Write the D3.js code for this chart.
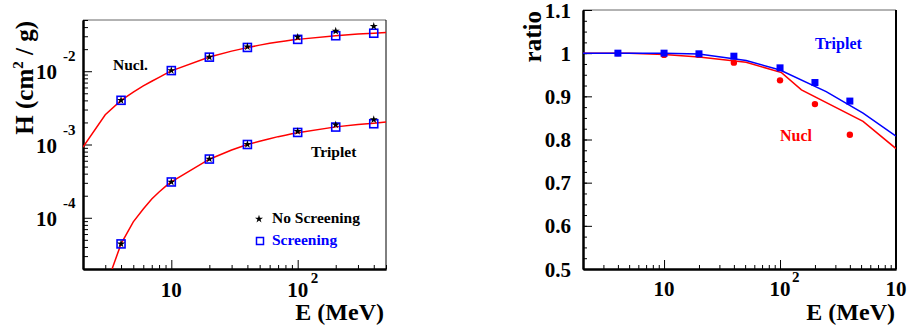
<!DOCTYPE html>
<html>
<head>
<meta charset="utf-8">
<script src="https://cdn.jsdelivr.net/npm/d3@7"></script>
<style>
  body { margin: 0; background: #fff; }
  svg { display: block; font-family: "Liberation Serif", "Times New Roman", serif; font-weight: bold; }
</style>
</head>
<body>
<svg id="chart" width="908" height="331"></svg>
<script>
// energies of the computed points (MeV)
const ePoints = [4, 10, 20, 40, 100, 200, 400];

// left panel: H (cm^2/g)
const nuclScreening   = [4.01e-3, 1.02e-2, 1.556e-2, 2.11e-2, 2.72e-2, 3.05e-2, 3.30e-2];
const nuclNoScreening = [4.01e-3, 1.024e-2, 1.562e-2, 2.16e-2, 2.92e-2, 3.53e-2, 4.11e-2];
const tripScreening   = [4.4e-5, 3.08e-4, 6.33e-4, 1.0e-3, 1.46e-3, 1.73e-3, 1.92e-3];
const tripNoScreening = [4.4e-5, 3.08e-4, 6.35e-4, 1.007e-3, 1.51e-3, 1.86e-3, 2.19e-3];

const nuclCurveE = [2, 3, 4, 5, 6, 7, 8, 9, 10, 20, 30, 40, 50, 60, 70, 80, 90, 100, 200, 300, 400, 500];
const nuclCurveH = [9.2e-4, 2.55e-3, 4.0e-3, 5.2e-3, 6.3e-3, 7.3e-3, 8.25e-3, 9.2e-3, 1.01e-2,
                    1.56e-2, 1.88e-2, 2.1e-2, 2.27e-2, 2.4e-2, 2.5e-2, 2.58e-2, 2.66e-2, 2.72e-2,
                    3.05e-2, 3.22e-2, 3.31e-2, 3.38e-2];
const tripCurveE = [3, 4, 5, 6, 7, 8, 9, 10, 20, 30, 40, 50, 60, 70, 80, 90, 100, 200, 300, 400, 500];
const tripCurveH = [1.1e-5, 4.4e-5, 8.8e-5, 1.32e-4, 1.8e-4, 2.25e-4, 2.68e-4, 3.08e-4,
                    6.3e-4, 8.4e-4, 1.0e-3, 1.11e-3, 1.2e-3, 1.28e-3, 1.34e-3, 1.4e-3, 1.45e-3,
                    1.74e-3, 1.87e-3, 1.95e-3, 2.03e-3];

// right panel: ratio screening / no screening
const ratioTripPts = [1.0, 1.0, 0.9985, 0.993, 0.966, 0.932, 0.889];
const ratioNuclPts = [1.0, 0.996, 0.996, 0.978, 0.937, 0.882, 0.811];
const ratioTripCurveE = [2, 5, 10, 20, 51, 100, 250, 520, 1000];
const ratioTripCurve  = [1.0, 1.0, 1.0, 0.998, 0.983, 0.961, 0.911, 0.861, 0.808];
const ratioNuclCurveE = [2, 5, 10, 20, 51, 103, 153, 520, 1000];
const ratioNuclCurve  = [1.0, 1.0, 0.997, 0.991, 0.979, 0.955, 0.915, 0.842, 0.779];

const leftTicksY = [1e-4, 1e-3, 1e-2];
const leftTicksX = [10, 100];
const rightTicksX = [10, 100, 1000];
const rightTicksY = [0.5, 0.6, 0.7, 0.8, 0.9, 1.0, 1.1];

const RED = '#ff0000', BLUE = '#0000ff';
const svg = d3.select('#chart');

function minorLog(lo, hi) {
  const out = [];
  for (let p = Math.floor(Math.log10(lo)); p <= Math.ceil(Math.log10(hi)); p++) {
    for (let m = 2; m < 10; m++) {
      const v = m * Math.pow(10, p);
      if (v >= lo * 0.999 && v <= hi * 1.001) out.push(v);
    }
  }
  return out;
}

function frame(g, x0, y0, x1, y1, rightW) {
  g.append('line').attr('x1', x0).attr('x2', x1).attr('y1', y0).attr('y2', y0)
    .attr('stroke', '#666').attr('stroke-width', 1);
  g.append('line').attr('x1', x1).attr('x2', x1).attr('y1', y0).attr('y2', y1)
    .attr('stroke', '#000').attr('stroke-width', rightW);
}

// ticks drawn inside the frame, ROOT style
const styleAxis = a => {
  a.select('.domain').attr('stroke', '#000').attr('stroke-width', 2);
  a.selectAll('text').remove();
  a.selectAll('line').attr('stroke', '#000').attr('stroke-width', 1);
};

// ---------------- left panel ----------------
const L = { x0: 83, x1: 386, y0: 20, y1: 269 };
const xL = d3.scaleLog().domain([2, 500]).range([L.x0, L.x1]);
const yL = d3.scaleLog().domain([2e-5, 0.05]).range([L.y1, L.y0]);

const gl = svg.append('g');
svg.append('clipPath').attr('id', 'clipL').append('rect')
  .attr('x', L.x0).attr('y', L.y0).attr('width', L.x1 - L.x0).attr('height', L.y1 - L.y0);

frame(gl, L.x0, L.y0, L.x1, L.y1, 1);

gl.append('g').attr('transform', `translate(0,${L.y1})`)
  .call(d3.axisBottom(xL).tickValues(minorLog(2, 500)).tickSizeInner(-4).tickSizeOuter(0)).call(styleAxis);
gl.append('g').attr('transform', `translate(0,${L.y1})`)
  .call(d3.axisBottom(xL).tickValues(leftTicksX).tickSizeInner(-9).tickSizeOuter(0)).call(styleAxis);
gl.append('g').attr('transform', `translate(${L.x0},0)`)
  .call(d3.axisLeft(yL).tickValues(minorLog(2e-5, 0.05)).tickSizeInner(-5).tickSizeOuter(0)).call(styleAxis);
gl.append('g').attr('transform', `translate(${L.x0},0)`)
  .call(d3.axisLeft(yL).tickValues(leftTicksY).tickSizeInner(-9).tickSizeOuter(0)).call(styleAxis);

// tick labels
leftTicksX.forEach(v => {
  const p = Math.round(Math.log10(v));
  gl.append('text').attr('x', xL(v)).attr('y', 297).attr('font-size', 21).attr('text-anchor', 'middle').text('10');
  if (p > 1) gl.append('text').attr('x', xL(v) + 13).attr('y', 283).attr('font-size', 15).text(p);
});
leftTicksY.forEach(v => {
  const p = Math.round(Math.log10(v));
  gl.append('text').attr('x', 57).attr('y', yL(v) + 8).attr('font-size', 21).attr('text-anchor', 'end').text('10');
  gl.append('text').attr('x', 63).attr('y', yL(v) - 10).attr('font-size', 15).text(String(p));
});

// curves
const lineL = d3.line().x(d => xL(d[0])).y(d => yL(d[1]));
gl.append('path').datum(d3.zip(nuclCurveE, nuclCurveH)).attr('d', lineL)
  .attr('fill', 'none').attr('stroke', RED).attr('stroke-width', 1.5).attr('clip-path', 'url(#clipL)');
gl.append('path').datum(d3.zip(tripCurveE, tripCurveH)).attr('d', lineL)
  .attr('fill', 'none').attr('stroke', RED).attr('stroke-width', 1.5).attr('clip-path', 'url(#clipL)');

// markers: open squares (screening) and stars (no screening)
const sq = 8;
[nuclScreening, tripScreening].forEach(series => {
  gl.selectAll(null).data(d3.zip(ePoints, series)).enter().append('rect')
    .attr('x', d => xL(d[0]) - sq / 2).attr('y', d => yL(d[1]) - sq / 2)
    .attr('width', sq).attr('height', sq)
    .attr('fill', 'none').attr('stroke', BLUE).attr('stroke-width', 1.6);
});
const star = d3.symbol().type(d3.symbolStar).size(20);
[nuclNoScreening, tripNoScreening].forEach(series => {
  gl.selectAll(null).data(d3.zip(ePoints, series)).enter().append('path')
    .attr('d', star).attr('transform', d => `translate(${xL(d[0])},${yL(d[1])})`).attr('fill', '#000');
});

// annotations and legend
gl.append('text').attr('x', 113).attr('y', 70).attr('font-size', 15.5).text('Nucl.');
gl.append('text').attr('x', 311).attr('y', 157).attr('font-size', 15.5).text('Triplet');
gl.append('path').attr('d', star).attr('transform', 'translate(259,219)').attr('fill', '#000');
gl.append('text').attr('x', 272).attr('y', 223).attr('font-size', 15.5).text('No Screening');
gl.append('rect').attr('x', 256.5).attr('y', 237.5).attr('width', 7).attr('height', 7)
  .attr('fill', 'none').attr('stroke', BLUE).attr('stroke-width', 1.5);
gl.append('text').attr('x', 272).attr('y', 245).attr('font-size', 15.5).attr('fill', BLUE).text('Screening');

// axis titles
const yTitle = gl.append('text').attr('transform', 'translate(33,21) rotate(-90)')
  .attr('text-anchor', 'end').attr('font-size', 25);
yTitle.append('tspan').text('H (cm');
yTitle.append('tspan').attr('font-size', 15).attr('dy', -10).text('2');
yTitle.append('tspan').attr('dy', 10).text(' / g)');
gl.append('text').attr('x', 384).attr('y', 320).attr('text-anchor', 'end').attr('font-size', 24).text('E (MeV)');

// ---------------- right panel ----------------
const R = { x0: 583, x1: 896, y0: 10, y1: 269 };
const xR = d3.scaleLog().domain([2, 1000]).range([R.x0, R.x1]);
const yR = d3.scaleLinear().domain([0.5, 1.1]).range([R.y1, R.y0]);

const gr = svg.append('g');
svg.append('clipPath').attr('id', 'clipR').append('rect')
  .attr('x', R.x0).attr('y', R.y0).attr('width', R.x1 - R.x0).attr('height', R.y1 - R.y0);

frame(gr, R.x0, R.y0, R.x1, R.y1, 2);

gr.append('g').attr('transform', `translate(0,${R.y1})`)
  .call(d3.axisBottom(xR).tickValues(minorLog(2, 1000)).tickSizeInner(-4).tickSizeOuter(0)).call(styleAxis);
gr.append('g').attr('transform', `translate(0,${R.y1})`)
  .call(d3.axisBottom(xR).tickValues(rightTicksX).tickSizeInner(-9).tickSizeOuter(0)).call(styleAxis);
gr.append('g').attr('transform', `translate(${R.x0},0)`)
  .call(d3.axisLeft(yR).tickValues(d3.range(0.5, 1.1001, 0.025)).tickSizeInner(-4).tickSizeOuter(0)).call(styleAxis);
gr.append('g').attr('transform', `translate(${R.x0},0)`)
  .call(d3.axisLeft(yR).tickValues(rightTicksY).tickSizeInner(-9).tickSizeOuter(0)).call(styleAxis);

rightTicksX.forEach(v => {
  const p = Math.round(Math.log10(v));
  gr.append('text').attr('x', xR(v)).attr('y', 296).attr('font-size', 21).attr('text-anchor', 'middle').text('10');
  if (p > 1) gr.append('text').attr('x', xR(v) + 12).attr('y', 282).attr('font-size', 15).text(p);
});
rightTicksY.forEach(v => {
  gr.append('text').attr('x', 571).attr('y', yR(v) + 7.5).attr('font-size', 21).attr('text-anchor', 'end')
    .text(d3.format('~g')(v));
});

const lineR = d3.line().x(d => xR(d[0])).y(d => yR(d[1]));
gr.append('path').datum(d3.zip(ratioNuclCurveE, ratioNuclCurve)).attr('d', lineR)
  .attr('fill', 'none').attr('stroke', RED).attr('stroke-width', 1.5).attr('clip-path', 'url(#clipR)');
gr.append('path').datum(d3.zip(ratioTripCurveE, ratioTripCurve)).attr('d', lineR)
  .attr('fill', 'none').attr('stroke', BLUE).attr('stroke-width', 1.5).attr('clip-path', 'url(#clipR)');

gr.selectAll(null).data(d3.zip(ePoints, ratioNuclPts)).enter().append('circle')
  .attr('cx', d => xR(d[0])).attr('cy', d => yR(d[1])).attr('r', 3.2).attr('fill', RED);
gr.selectAll(null).data(d3.zip(ePoints, ratioTripPts)).enter().append('rect')
  .attr('x', d => xR(d[0]) - 3.5).attr('y', d => yR(d[1]) - 3.5).attr('width', 7).attr('height', 7).attr('fill', BLUE);

gr.append('text').attr('x', 815).attr('y', 49).attr('font-size', 16).attr('fill', BLUE).text('Triplet');
gr.append('text').attr('x', 780).attr('y', 140.5).attr('font-size', 16).attr('fill', RED).text('Nucl');

gr.append('text').attr('transform', 'translate(541,11) rotate(-90)').attr('text-anchor', 'end')
  .attr('font-size', 25).text('ratio');
gr.append('text').attr('x', 895).attr('y', 320).attr('text-anchor', 'end').attr('font-size', 24).text('E (MeV)');
</script>
</body>
</html>
